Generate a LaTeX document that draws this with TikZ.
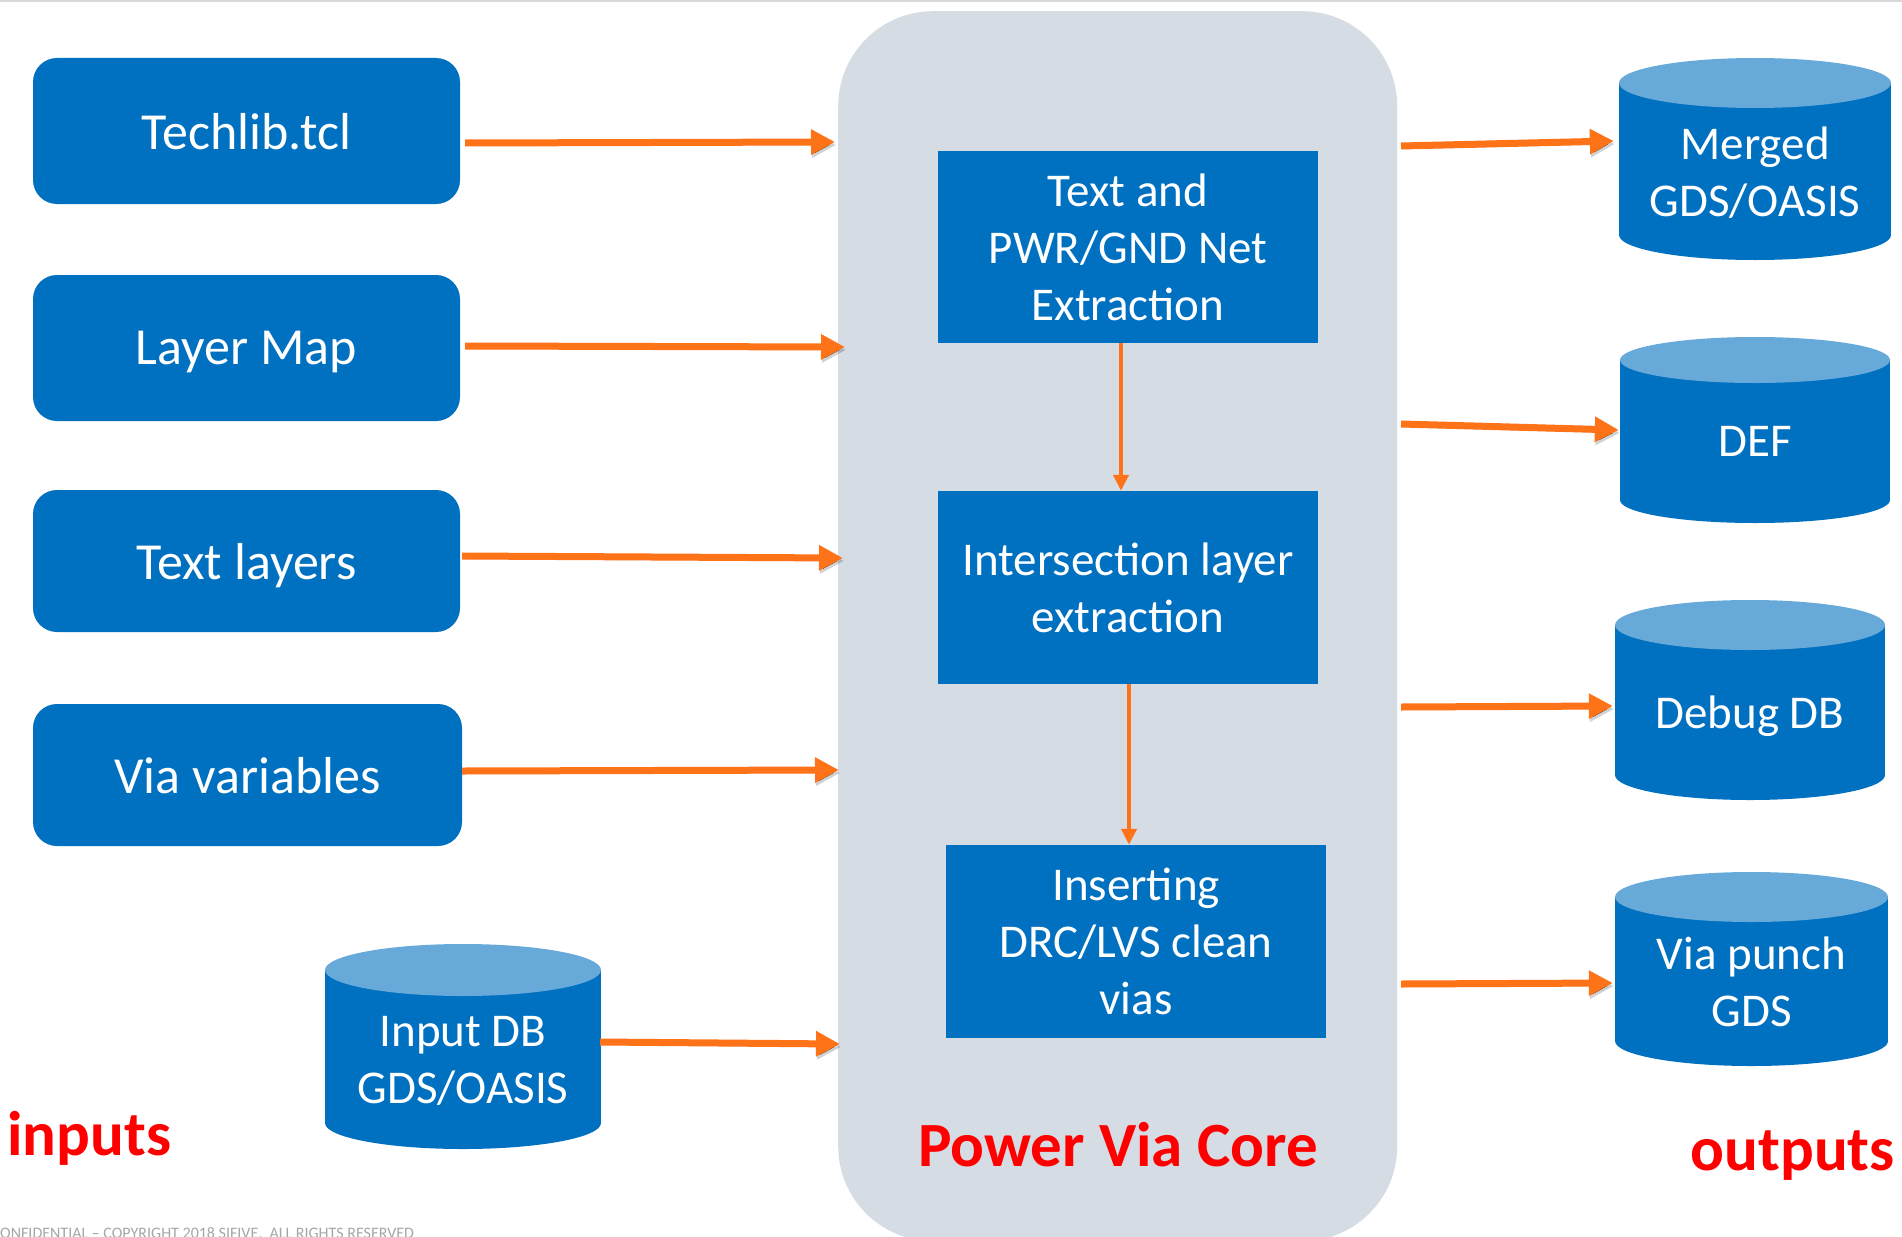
\documentclass[tikz,border=0pt]{standalone}
\usepackage{fontspec}
\setmainfont{Carlito}
\usetikzlibrary{arrows.meta}
\definecolor{boxblue}{HTML}{0070C0}
\definecolor{toplight}{HTML}{67A9D8}
\definecolor{panelgray}{HTML}{D6DCE4}
\definecolor{arrorange}{HTML}{FF7318}
\definecolor{labelred}{HTML}{FF0000}
\definecolor{footgray}{HTML}{A6A6A6}
\tikzset{
  inbox/.style={fill=boxblue, text=white, rounded corners=24pt, inner sep=0pt, text depth=0pt,
    font=\fontsize{52}{62}\selectfont, align=center},
  corebox/.style={fill=boxblue, text=white, inner sep=0pt, text depth=0pt,
    font=\fontsize{47}{57}\selectfont, align=center, minimum width=380pt, minimum height=193pt},
  cyltext/.style={text=white, inner sep=0pt, text depth=0pt,
    font=\fontsize{47}{57}\selectfont, align=center},
  arrowshadow/.style={preaction={draw=black, draw opacity=0.18, transform canvas={shift={(1,3)}}}},
  bigarrow/.style={draw=arrorange, line width=7pt, -{Triangle[length=24pt,width=24pt]}, arrowshadow},
  smallarrow/.style={draw=arrorange, line width=4pt, -{Triangle[length=16pt,width=15pt]}},
  redlabel/.style={text=labelred, inner sep=0pt, font=\fontsize{63}{75}\selectfont\bfseries},
}
\newcommand\dbcyl[7]{%
  \pgfmathsetmacro\cylcx{(#2+#4)/2}%
  \pgfmathsetmacro\cylrx{(#4-#2)/2}%
  \pgfmathsetmacro\cylcy{(#3+#6+#5)/2}%
  \pgfmathsetmacro\cylw{#4-#2}%
  \pgfmathsetmacro\cylh{#5-#3-#6}%
  \fill[boxblue] (#2,#3+#6) rectangle (#4,#5-#6);
  \fill[boxblue] (\cylcx,#5-#6) ellipse[x radius=\cylrx pt, y radius=#6pt];
  \fill[toplight] (\cylcx,#3+#6) ellipse[x radius=\cylrx pt, y radius=#6pt];
  \node[cyltext, minimum width=\cylw pt, minimum height=\cylh pt] (#1) at (\cylcx,\cylcy) {#7};
}
\begin{document}
\begin{tikzpicture}[x=1pt,y=-1pt]
\useasboundingbox (0,0) rectangle (1902,1236);
\fill[white] (0,0) rectangle (1902,1236);
\fill[black!15] (0,0) rectangle (1902,2.5);

% central panel
\node[fill=panelgray, rounded corners=95pt, minimum width=559pt, minimum height=1230pt,
  inner sep=0pt, anchor=north west] (core) at (838,11) {};

% inputs
\node[inbox, minimum width=427pt, minimum height=146pt] (tech)  at (246.5,131) {Techlib.tcl};
\node[inbox, minimum width=427pt, minimum height=146pt] (layer) at (246.5,348) {Layer Map};
\node[inbox, minimum width=427pt, minimum height=142pt] (textl) at (246.5,561) {Text layers};
\node[inbox, minimum width=429pt, minimum height=142pt] (via)   at (247.5,775) {Via variables};
\dbcyl{inputdb}{325}{944}{601}{1149}{26}{Input DB\\GDS/OASIS}

% core steps
\node[corebox, minimum height=192pt] (b1) at (1128,247)   {Text and\\PWR/GND Net\\Extraction};
\node[corebox] (b2) at (1128,587.5) {Intersection layer\\extraction};
\node[corebox] (b3) at (1136,941.5) {Inserting\\DRC/LVS clean\\vias};

% outputs
\dbcyl{merged}{1619}{58}{1891}{260}{25}{Merged\\GDS/OASIS}
\dbcyl{def}{1620}{337}{1890}{523}{23}{DEF}
\dbcyl{debug}{1615}{600}{1885}{800}{25}{Debug DB}
\dbcyl{viap}{1615}{872}{1888}{1066}{25}{Via punch\\GDS}

% connector end points on the core panel
\coordinate (in1) at (835,142);
\coordinate (in2) at (845,347);
\coordinate (in3) at (843,558);
\coordinate (in4) at (839,770);
\coordinate (in5) at (840,1044);
\coordinate (out1) at (1401,146);
\coordinate (out2) at (1401,424);
\coordinate (out3) at (1401,707);
\coordinate (out4) at (1401,984);

% input arrows
\draw[bigarrow] ([xshift=5pt,yshift=-12pt]tech.east) -- (in1);
\draw[bigarrow] ([xshift=5pt,yshift=2pt]layer.east) -- (in2);
\draw[bigarrow] ([xshift=2pt,yshift=5pt]textl.east) -- (in3);
\draw[bigarrow] ([yshift=4pt]via.east) -- (in4);
\draw[bigarrow] ([xshift=-1pt,yshift=17.5pt]inputdb.east) -- (in5);

% internal arrows
\draw[smallarrow] ([xshift=-7pt]b1.south) -- ([xshift=-7pt]b2.north);
\draw[smallarrow] ([xshift=1pt]b2.south) -- ([xshift=-7pt]b3.north);

% output arrows
\draw[bigarrow] (out1) -- ([xshift=-5pt,yshift=30.5pt]merged.west);
\draw[bigarrow] (out2) -- ([xshift=-1pt,yshift=11.5pt]def.west);
\draw[bigarrow] (out3) -- ([xshift=-2pt,yshift=6.5pt]debug.west);
\draw[bigarrow] (out4) -- ([xshift=-2pt,yshift=-1.5pt]viap.west);

% labels
\node[redlabel, anchor=base] (corelabel) at (1118,1166) {Power Via Core};
\node[redlabel, anchor=base west] (inlabel) at (7,1155) {inputs};
\node[redlabel, anchor=base east] (outlabel) at (1895,1170) {outputs};

\node[anchor=base west, inner sep=0pt, text=footgray, font=\fontsize{16}{18}\selectfont]
  (footer) at (0,1238) {ONFIDENTIAL – COPYRIGHT 2018 SIFIVE.\ \ ALL RIGHTS RESERVED};
\end{tikzpicture}
\end{document}
